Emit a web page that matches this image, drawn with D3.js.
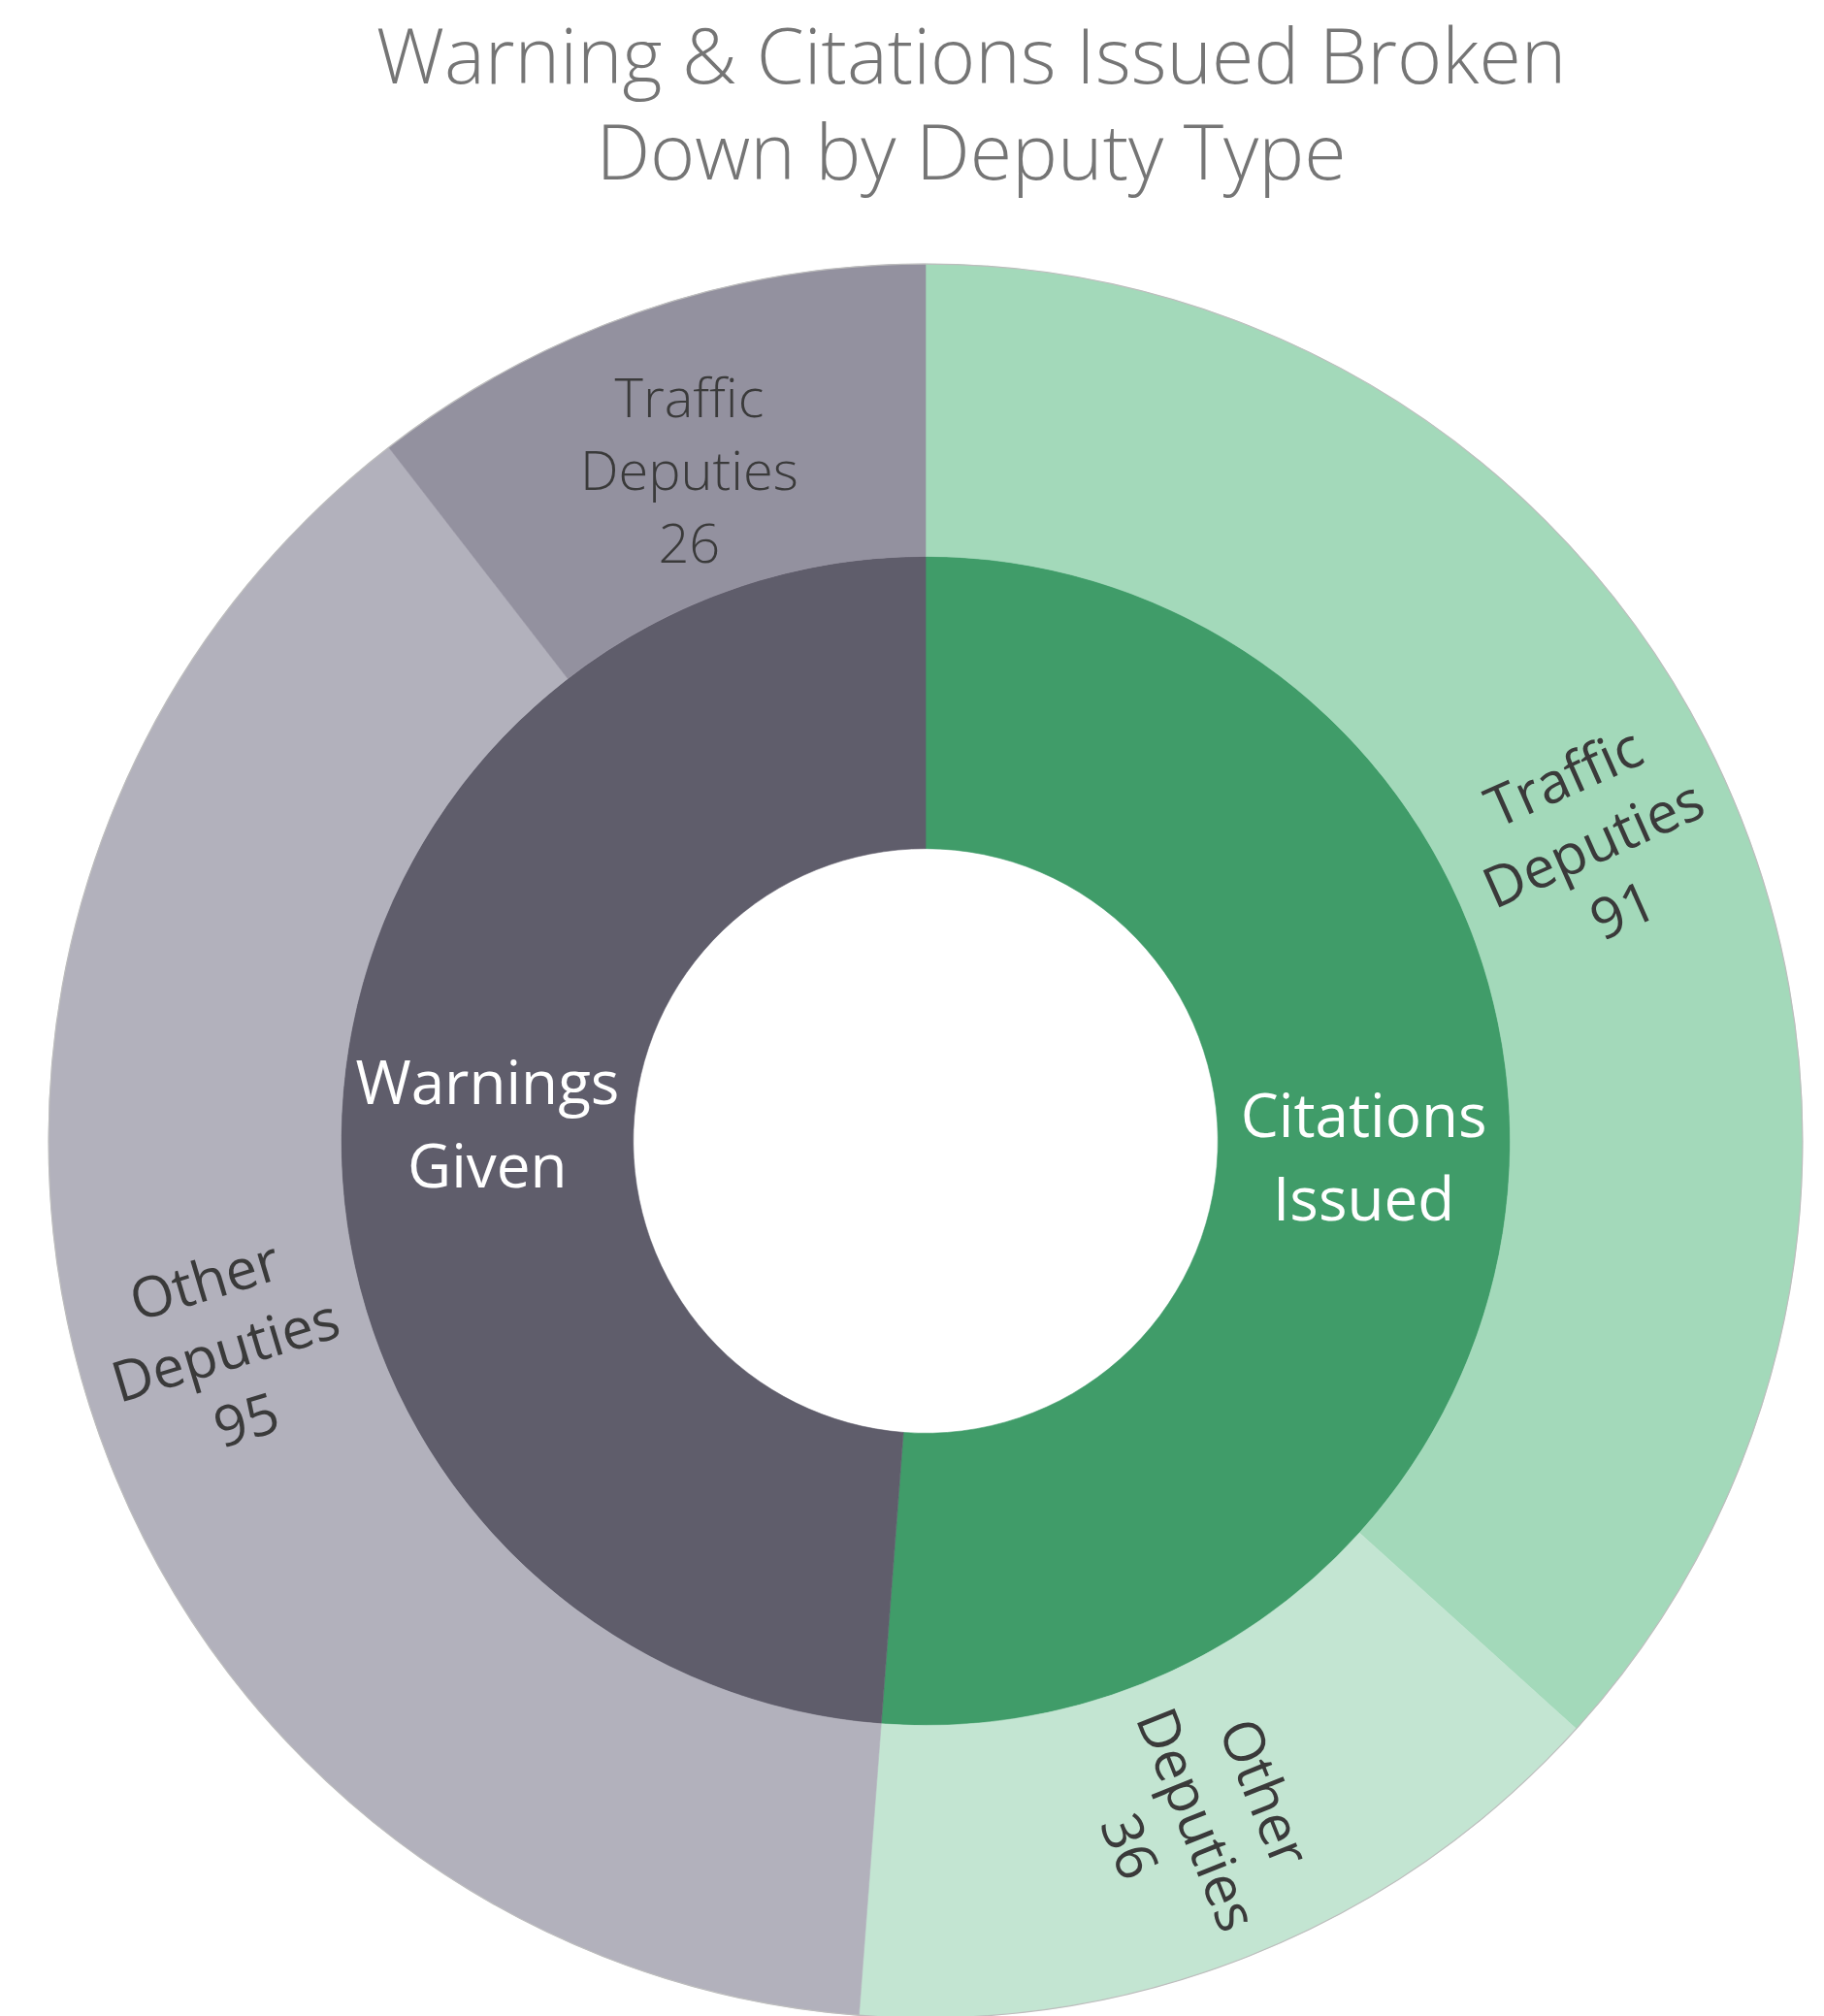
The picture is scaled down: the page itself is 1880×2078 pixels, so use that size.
<!DOCTYPE html>
<html>
<head>
<meta charset="utf-8">
<script src="https://cdn.jsdelivr.net/npm/d3@7"></script>
<style>
  html, body { margin: 0; padding: 0; background: #ffffff; }
  svg { display: block; }
</style>
</head>
<body>
<svg id="chart"></svg>
<script>
// ---- data ----
const titleLines = ["Warning & Citations Issued Broken", "Down by Deputy Type"];
const categories = ["Citations Issued", "Warnings Given"];
const citationTypes = ["Traffic Deputies", "Other Deputies"];
const citationCounts = [91, 36];
const warningTypes = ["Other Deputies", "Traffic Deputies"];
const warningCounts = [95, 26];

// ---- colours ----
const categoryColors = { "Citations Issued": "#409C69", "Warnings Given": "#5F5D6B" };
const typeColors = {
  "Citations Issued": { "Traffic Deputies": "#A3D9BA", "Other Deputies": "#C3E5D2" },
  "Warnings Given":   { "Traffic Deputies": "#93919F", "Other Deputies": "#B2B1BC" }
};

// outer labels that stay level instead of following the radius
const levelLabels = new Set(["Warnings Given/Traffic Deputies"]);

const W = 1880, H = 2078;
const cx = 954, cy = 1176;
const ringWidth = 301.3;

const svg = d3.select("#chart").attr("width", W).attr("height", H);

// ---- title ----
const titleG = svg.append("g").attr("class", "title");
const titleFont = "'Segoe UI Light','Segoe UI','Open Sans','Noto Sans',sans-serif";
const titleText = titleG.selectAll("text").data(titleLines).join("text")
  .attr("x", 1001)
  .attr("y", (d, i) => 86 + i * 99)
  .attr("text-anchor", "middle")
  .attr("fill", "#757575")
  .style("font-family", titleFont)
  .style("font-weight", 300)
  .style("font-size", "84px")
  .text(d => d);
// keep the first line at its set width
{
  const w0 = titleText.nodes()[0].getComputedTextLength();
  const size = 84 * 1226 / w0;
  titleText.style("font-size", size.toFixed(1) + "px");
}

// ---- hierarchy ----
const tree = {
  name: "root",
  children: [
    { name: categories[0], children: citationTypes.map((t, i) => ({ name: t, value: citationCounts[i] })) },
    { name: categories[1], children: warningTypes.map((t, i) => ({ name: t, value: warningCounts[i] })) }
  ]
};
const root = d3.hierarchy(tree).sum(d => d.value || 0);
d3.partition().size([2 * Math.PI, 3])(root);

const r = d3.scaleLinear().domain([0, 3]).range([0, 3 * ringWidth]);

const arc = d3.arc()
  .startAngle(d => d.x0)
  .endAngle(d => d.x1)
  .innerRadius(d => r(d.y0))
  .outerRadius(d => r(d.y1));

const g = svg.append("g").attr("transform", `translate(${cx},${cy})`);

const nodes = root.descendants().filter(d => d.depth > 0);

function fillOf(d) {
  if (d.depth === 1) return categoryColors[d.data.name];
  return typeColors[d.parent.data.name][d.data.name];
}

g.selectAll("path.seg").data(nodes).join("path")
  .attr("class", "seg")
  .attr("d", arc)
  .attr("fill", fillOf)
  .attr("stroke", fillOf)
  .attr("stroke-width", 0.6);

// faint rim round the outer ring
g.append("circle")
  .attr("r", r(3))
  .attr("fill", "none")
  .attr("stroke", "#bdbdbd")
  .attr("stroke-width", 1.2);

// ---- labels ----
const labelFont = "'Segoe UI','Open Sans','Noto Sans',sans-serif";

function centroid(d) {
  const a = (d.x0 + d.x1) / 2;
  const rr = r((d.y0 + d.y1) / 2);
  return [rr * Math.sin(a), -rr * Math.cos(a), a];
}

// inner ring: horizontal white labels
const inner = nodes.filter(d => d.depth === 1);
inner.forEach(d => {
  const [x, y] = centroid(d);
  const lines = d.data.name.split(" ");
  const lh = 86;
  const t = g.append("text")
    .attr("text-anchor", "middle")
    .attr("fill", "#ffffff")
    .style("font-family", labelFont)
    .style("font-size", "62px");
  lines.forEach((ln, i) => {
    t.append("tspan")
      .attr("x", x)
      .attr("y", y + (i - (lines.length - 1) / 2) * lh + 22)
      .text(ln);
  });
});

// outer ring: name and count, laid along the radius unless kept level
const outer = nodes.filter(d => d.depth === 2);
outer.forEach(d => {
  const [x, y, a] = centroid(d);
  const key = d.parent.data.name + "/" + d.data.name;
  const level = levelLabels.has(key);
  const lines = [...d.data.name.split(" "), String(d.value)];
  const lh = 75;
  let deg = a * 180 / Math.PI - 90;
  if (deg > 90) deg -= 180;
  const lg = g.append("g")
    .attr("transform", level
      ? `translate(${x},${y + 22})`
      : `translate(${x},${y}) rotate(${deg})`);
  const t = lg.append("text")
    .attr("text-anchor", "middle")
    .attr("fill", "#3a3a3a")
    .style("font-family", labelFont)
    .style("font-weight", level ? 300 : 400)
    .style("font-size", level ? "56px" : "58px");
  lines.forEach((ln, i) => {
    t.append("tspan")
      .attr("x", 0)
      .attr("y", (i - (lines.length - 1) / 2) * lh + 20)
      .text(ln);
  });
});
</script>
</body>
</html>
